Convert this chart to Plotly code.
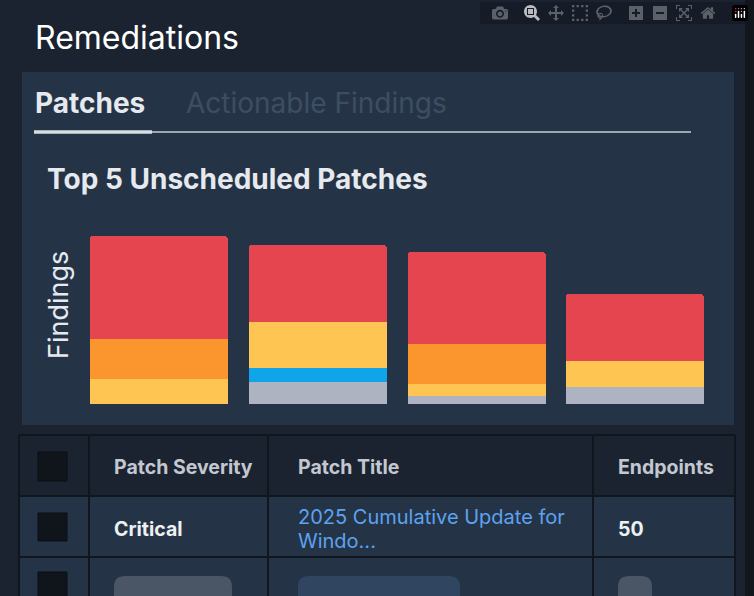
import plotly.graph_objects as go

categories = ["Patch 1", "Patch 2", "Patch 3", "Patch 4"]
gray_vals = [0, 22, 8, 17]
blue_vals = [0, 14, 0, 0]
yellow_vals = [25, 46, 12, 26]
orange_vals = [40, 0, 40, 0]
red_vals = [103, 77, 92, 67]
series = [("Low", gray_vals, "#aeb3c2"), ("Info", blue_vals, "#0ea5e9"),
          ("Medium", yellow_vals, "#fec553"), ("High", orange_vals, "#fb962e"),
          ("Critical", red_vals, "#e5454f")]

W, H = 754, 596
def px(x): return x / W
def py(y): return 1 - y / H

fig = go.Figure()
for name, vals, col in series:
    fig.add_bar(x=categories, y=vals, name=name, marker_color=col, marker_line_width=0, width=0.87)

shapes = []
def rect(x0, y0, x1, y1, color, line=None, lw=0, layer="below"):
    shapes.append(dict(type="rect", xref="paper", yref="paper", x0=px(x0), x1=px(x1), y0=py(y1), y1=py(y0),
                       fillcolor=color, line=dict(color=line or color, width=lw), layer=layer))
def line(x0, y0, x1, y1, color, w):
    shapes.append(dict(type="line", xref="paper", yref="paper", x0=px(x0), x1=px(x1), y0=py(y0), y1=py(y1),
                       line=dict(color=color, width=w), layer="above"))

rect(0, 0, 745, 596, "#1b2331")
rect(22, 72, 734, 425, "#243446")
line(34, 132, 691, 132, "#c9ced6", 1.5)
line(34, 132, 152, 132, "#d9dde3", 3.5)
rect(19, 435, 735, 496, "#1b2331")
rect(19, 496, 735, 596, "#243446")
for x in [19, 89, 268, 593, 735]:
    line(x, 435, x, 596, "#10161d", 2)
for y in [435, 496, 557]:
    line(19, y, 735, y, "#10161d", 2)
for y0, y1 in [(452, 481), (513, 541), (572, 600)]:
    rect(38, y0, 67, y1, "#10151c", "#0b0f14", 1, "above")
for x0, x1, c in [(114, 232, "#4a5566"), (298, 460, "#2f4560"), (618, 652, "#4a5566")]:
    r = 11
    shapes.append(dict(type="path", xref="paper", yref="paper", layer="above", fillcolor=c, line=dict(width=0),
                       path=(f"M {px(x0+r)},{py(576)} L {px(x1-r)},{py(576)} "
                             f"Q {px(x1)},{py(576)} {px(x1)},{py(576+r)} L {px(x1)},{py(600)} "
                             f"L {px(x0)},{py(600)} L {px(x0)},{py(576+r)} Q {px(x0)},{py(576)} {px(x0+r)},{py(576)} Z")))

ann = []
def text(x, y, t, size, color, bold=False, anchor="left", angle=0):
    ann.append(dict(xref="paper", yref="paper", x=px(x), y=py(y), text=f"<b>{t}</b>" if bold else t,
                    showarrow=False, xanchor=anchor, yanchor="middle", textangle=angle,
                    font=dict(family="Inter", size=size, color=color)))
text(33, 37, "Remediations", 32, "#ffffff")
text(33, 103, "Patches", 28, "#e6e9ee", True)
text(184, 103, "Actionable Findings", 28, "#3e4e62")
text(45, 179, "Top 5 Unscheduled Patches", 28, "#e6e9ee", True)
text(58, 305, "Findings", 27, "#e6e9ee", anchor="center", angle=-90)
text(112, 467, "Patch Severity", 19.5, "#c3c8d0", True)
text(296, 467, "Patch Title", 19.5, "#c3c8d0", True)
text(616, 467, "Endpoints", 19.5, "#c3c8d0", True)
text(112, 529, "Critical", 19.5, "#eef0f3", True)
text(296, 517, "2025 Cumulative Update for", 20, "#5ea2f0")
text(296, 541, "Windo...", 20, "#5ea2f0")
text(616, 529, "50", 19.5, "#eef0f3", True)

fig.update_layout(width=W, height=H, margin=dict(l=0, r=0, t=0, b=0), paper_bgcolor="#11161d",
                  plot_bgcolor="rgba(0,0,0,0)", barmode="stack", barcornerradius=3, showlegend=False,
                  shapes=shapes, annotations=ann, bargap=0,
                  xaxis=dict(domain=[px(79.6), px(714.4)], showticklabels=False, showgrid=False, zeroline=False,
                             range=[-0.5, 3.5]),
                  yaxis=dict(domain=[py(404), py(234)], range=[0, 170], showticklabels=False, showgrid=False,
                             zeroline=False))
fig.write_html("out.html", post_script="document.body.style.margin='0';document.body.style.overflow='hidden';")
